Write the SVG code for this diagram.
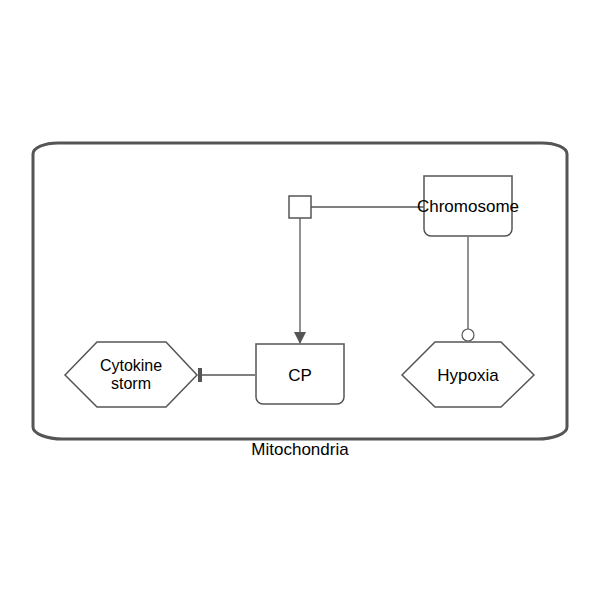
<svg xmlns="http://www.w3.org/2000/svg" width="600" height="600" viewBox="0 0 600 600">
<style>
.node{fill:#fff;stroke:#555;stroke-width:1.5}
.lbl{font-family:"Liberation Sans",Arial,sans-serif;font-size:17px;fill:#000;text-anchor:middle}
.edge{fill:none;stroke:#555;stroke-width:1.3}
</style>
<defs>
<marker id="arrow" markerWidth="12" markerHeight="14" refX="11" refY="6" orient="auto" markerUnits="userSpaceOnUse">
<path d="M0,0 L12,6 L0,12 Z" fill="#555"/>
</marker>
<marker id="bar" markerWidth="4" markerHeight="14" refX="2" refY="7" orient="auto" markerUnits="userSpaceOnUse">
<rect x="0" y="0" width="4" height="14" fill="#555"/>
</marker>
</defs>
<rect width="600" height="600" fill="#fff"/>
<g id="Mitochondria">
<path d="M58,143 L542,143 A25,11 0 0 1 567,154 L567,427 A30,12 0 0 1 537,439 L63,439 A30,12 0 0 1 33,427 L33,154 A25,11 0 0 1 58,143 Z" fill="none" stroke="#555" stroke-width="3"/>
<text class="lbl" x="300" y="455">Mitochondria</text>
</g>
<g id="connectors">
<line class="edge" x1="311" y1="207" x2="424" y2="207"/>
<line class="edge" x1="300" y1="218" x2="300" y2="343" marker-end="url(#arrow)"/>
<line class="edge" x1="255" y1="375" x2="200" y2="375" marker-end="url(#bar)"/>
<line class="edge" x1="468" y1="237" x2="468" y2="329"/>
<circle cx="468" cy="335" r="6" fill="#fff" stroke="#555" stroke-width="1.2"/>
</g>
<g id="process">
<rect class="node" x="289" y="196" width="22" height="22" stroke-width="1.2"/>
</g>
<g id="Chromosome">
<path class="node" d="M424,176 L512,176 L512,229 A7,7 0 0 1 505,236 L431,236 A7,7 0 0 1 424,229 Z"/>
<text class="lbl" x="468" y="212">Chromosome</text>
</g>
<g id="CP">
<path class="node" d="M256,344 L344,344 L344,397 A7,7 0 0 1 337,404 L263,404 A7,7 0 0 1 256,397 Z"/>
<text class="lbl" x="300" y="381">CP</text>
</g>
<g id="Cytokine_storm">
<polygon class="node" points="65,375 97,342 166,342 197,375 166,407 97,407" stroke-width="1.2"/>
<text class="lbl" x="131" y="371" style="font-size:16px">Cytokine</text>
<text class="lbl" x="131" y="389" style="font-size:16px">storm</text>
</g>
<g id="Hypoxia">
<polygon class="node" points="402,375 435,342 501,342 534,375 501,407 435,407" stroke-width="1.2"/>
<text class="lbl" x="468" y="381">Hypoxia</text>
</g>
</svg>
